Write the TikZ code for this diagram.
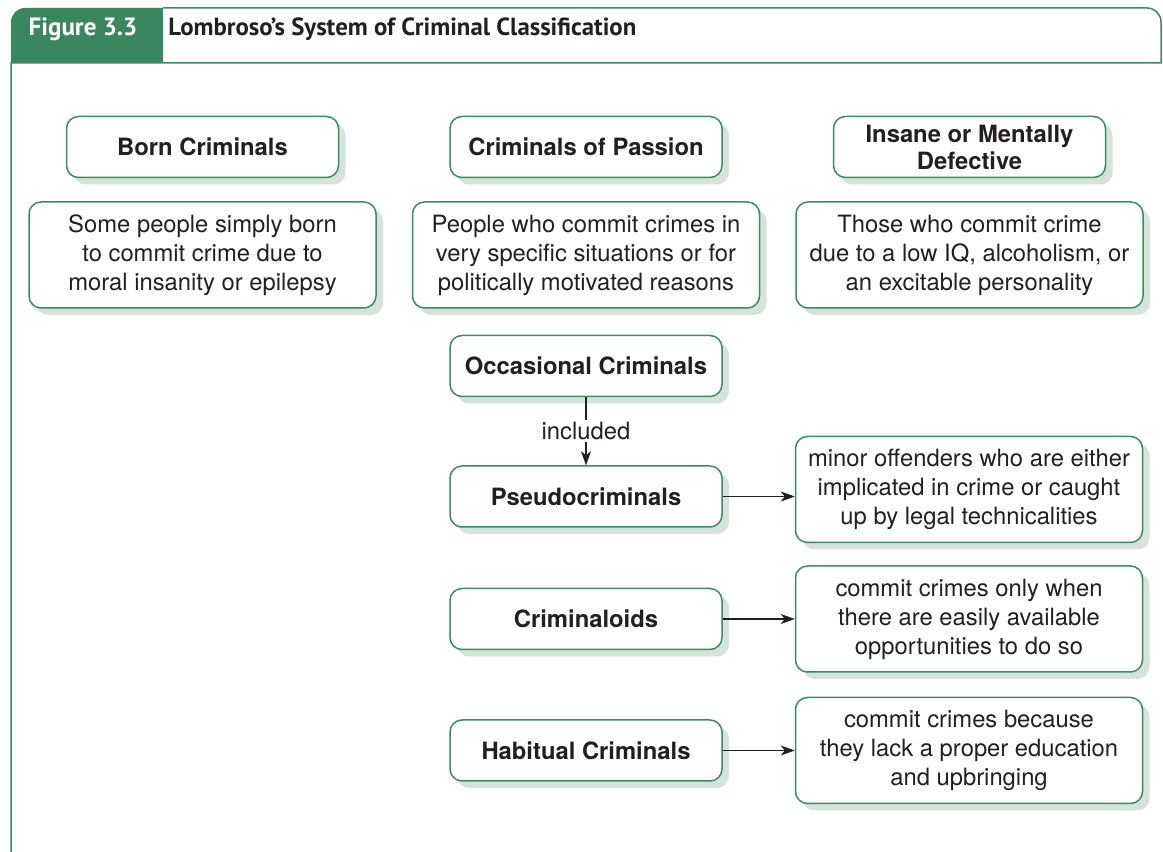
\documentclass[tikz,border=0pt]{standalone}
\usepackage{fontspec}
\setmainfont{TeX Gyre Heros}
\newfontfamily\headfont{PT Sans}
\usetikzlibrary{arrows.meta, positioning, calc, shadows}
\definecolor{figgreen}{RGB}{58,135,95}
\definecolor{boxgreen}{RGB}{62,138,98}
\definecolor{shadowgreen}{RGB}{214,227,218}
\definecolor{inkgray}{RGB}{35,31,32}

\begin{document}
\begin{tikzpicture}[x=1pt, y=1pt, node distance=11.5pt and 17.5pt,
    every node/.style={text=inkgray},
    card/.style={draw=boxgreen, line width=0.75pt, fill=white, rounded corners=6pt,
        drop shadow={shadow xshift=3.5pt, shadow yshift=-3.5pt, fill=shadowgreen, opacity=1},
        align=center, inner sep=2pt},
    titlecard/.style={card, minimum width=136pt, minimum height=30.5pt,
        font=\fontsize{11.9}{13.5}\selectfont\bfseries},
    desccard/.style={card, minimum width=173.5pt, minimum height=53pt,
        font=\fontsize{11.9}{14.5}\selectfont},
    link/.style={draw=inkgray, line width=0.6pt, -{Stealth[length=7pt, width=5pt, inset=2pt]}}]
    \useasboundingbox (0,0) rectangle (581.5,426);
    % header tab and frame
    \fill[figgreen] (5.5,394.5) -- (5.5,415) arc[start angle=180, end angle=90, radius=7pt]
        -- (81.5,422) -- (81.5,394.5) -- cycle;
    \draw[boxgreen, line width=0.75pt] (81.5,422) -- (573.5,422)
        arc[start angle=90, end angle=0, radius=7pt] -- (580.5,394.5) -- (5.5,394.5) -- (5.5,0);
    \node[text=white, inner sep=0pt, anchor=base, font=\headfont\fontsize{12.5}{14}\selectfont\bfseries]
        (fignum) at (41.5,408) {Figure 3.3};
    \node[inner sep=0pt, anchor=base west, font=\headfont\fontsize{12.4}{14}\selectfont\bfseries]
        (figtitle) at (84,408) {Lombroso’s System of Criminal Classification};

    % three types
    \node[desccard] (passiondesc) at (293,298.5) {People who commit crimes in\\very specific situations or for\\politically motivated reasons};
    \node[desccard, left=of passiondesc] (borndesc) {Some people simply born\\to commit crime due to\\moral insanity or epilepsy};
    \node[desccard, right=of passiondesc] (insanedesc) {Those who commit crime\\due to a low IQ, alcoholism, or\\an excitable personality};
    \node[titlecard, above=of borndesc] (born) {Born Criminals};
    \node[titlecard, above=of passiondesc] (passion) {Criminals of Passion};
    \node[titlecard, above=of insanedesc] (insane) {Insane or Mentally\\Defective};

    % occasional criminals
    \node[titlecard, below=13pt of passiondesc] (occasional) {Occasional Criminals};
    \node[titlecard, below=34pt of occasional] (pseudo) {Pseudocriminals};
    \node[titlecard, below=30pt of pseudo] (criminaloids) {Criminaloids};
    \node[titlecard, below=34.5pt of criminaloids] (habitual) {Habitual Criminals};
    \node[desccard, right=36pt of pseudo, yshift=3.5pt] (pseudodesc) {minor offenders who are either\\implicated in crime or caught\\up by legal technicalities};
    \node[desccard, right=36pt of criminaloids] (criminaloidsdesc) {commit crimes only when\\there are easily available\\opportunities to do so};
    \node[desccard, right=36pt of habitual] (habitualdesc) {commit crimes because\\they lack a proper education\\and upbringing};

    \draw[link] (occasional) -- node[fill=white, inner sep=1pt, font=\fontsize{11.9}{14}\selectfont] (incl) {included} (pseudo);
    \draw[link] (pseudo.east) -- (pseudo.east -| pseudodesc.west);
    \draw[link] (criminaloids) -- (criminaloidsdesc);
    \draw[link] (habitual) -- (habitualdesc);
\end{tikzpicture}
\end{document}
